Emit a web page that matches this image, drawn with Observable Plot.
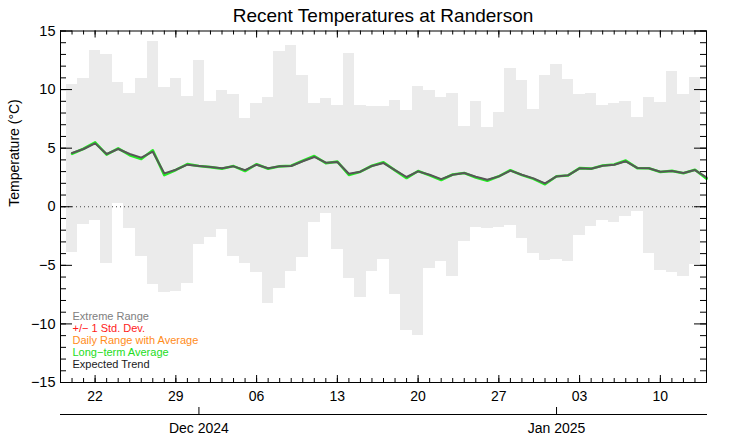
<!DOCTYPE html>
<html><head><meta charset="utf-8">
<script src="https://cdn.jsdelivr.net/npm/d3@7"></script>
<script src="https://cdn.jsdelivr.net/npm/@observablehq/plot@0.6"></script>
<style>
body{margin:0;background:#fff;font-family:"Liberation Sans",Arial,sans-serif;}
#wrap{position:relative;width:742px;height:445px;}
#chart{position:absolute;left:0;top:0;}
#title{position:absolute;left:0;top:4px;width:766px;text-align:center;font-size:19px;line-height:24px;color:#000;z-index:2;}
</style></head><body>
<div id="wrap"><div id="chart"></div><div id="title">Recent Temperatures at Randerson</div></div>
<script>
// ---- data ----
const firstDay = "2024-11-20";     // first bar
const lastDay = "2025-01-13";      // last bar
const lineEnd = "2025-01-14";      // last line point
const xDomain = ["2024-11-19", "2025-01-14"];
const extremeMax = [10.45, 10.94, 13.33, 13.02, 10.63, 9.69, 10.94, 14.1, 10.2, 10.94, 9.37, 12.48, 8.95, 9.91, 9.57, 7.55, 8.78, 9.32, 13.25, 13.76, 11.22, 8.78, 9.23, 8.63, 13.1, 8.66, 8.55, 8.55,
  9.09, 8.18, 10.28, 9.94, 9.29, 9.69, 6.81, 8.97, 6.78, 8.06, 11.79, 10.77, 8.29, 11.2, 12.14, 10.85, 9.57, 9.69, 8.63, 8.83, 8.97, 7.63, 9.32, 8.91, 11.54, 9.57, 11.0];
const extremeMin = [-3.93, -1.54, -1.17, -4.84, 0.28, -1.88, -4.27, -6.64, -7.29, -7.24, -6.58, -3.22, -2.62, -1.91, -4.22, -4.81, -5.58, -8.23, -6.98, -5.5, -4.33, -1.34, -0.57, -3.65, -6.13, -7.72, -5.5, -4.53,
  -7.49, -10.57, -11.0, -5.27, -4.64, -5.98, -2.96, -1.79, -1.88, -1.74, -1.6, -2.71, -3.96, -4.62, -4.53, -4.7, -2.48, -1.71, -1.2, -1.37, -0.83, -0.4, -3.96, -5.47, -5.58, -5.98, -4.9];
const longTermAverage = [4.52, 4.95, 5.5, 4.45, 4.98, 4.4, 4.08, 4.82, 2.7, 3.14, 3.64, 3.48, 3.38, 3.25, 3.47, 3.05, 3.63, 3.24, 3.45, 3.5, 3.93, 4.33, 3.72, 3.85, 2.72, 2.99, 3.5, 3.8,
  3.1, 2.45, 3.05, 2.68, 2.28, 2.75, 2.88, 2.5, 2.22, 2.6, 3.12, 2.7, 2.38, 1.92, 2.6, 2.67, 3.3, 3.25, 3.52, 3.6, 3.94, 3.3, 3.28, 2.97, 3.06, 2.86, 3.16, 2.4];
const expectedTrend = [4.59, 4.93, 5.41, 4.5, 4.93, 4.5, 4.19, 4.7, 2.85, 3.16, 3.59, 3.48, 3.39, 3.28, 3.45, 3.13, 3.59, 3.28, 3.45, 3.48, 3.88, 4.25, 3.76, 3.82, 2.82, 2.99, 3.48, 3.73,
  3.13, 2.54, 3.02, 2.73, 2.36, 2.73, 2.88, 2.56, 2.3, 2.59, 3.08, 2.73, 2.42, 1.99, 2.59, 2.68, 3.28, 3.25, 3.5, 3.59, 3.88, 3.31, 3.28, 2.99, 3.05, 2.88, 3.13, 2.5];
const weekTicks = ["2024-11-22", "2024-11-29", "2024-12-06", "2024-12-13", "2024-12-20", "2024-12-27", "2025-01-03", "2025-01-10"];
const monthTicks = ["2024-12-01", "2025-01-01"];
const yMajorTicks = [-15, -10, -5, 0, 5, 10, 15];
const legendLabels = ["Extreme Range", "+/\u2212 1 Std. Dev.", "Daily Range with Average", "Long\u2212term Average", "Expected Trend"];
const legendColors = ["#808080", "#ff1a1a", "#ff8c1a", "#22dd22", "#1a1a1a"];
const yLabel = "Temperature (\u00b0C)";

// ---- build tables ----
const parse = s => new Date(s + "T00:00:00Z");
const barDays = d3.utcDay.range(parse(firstDay), d3.utcDay.offset(parse(lastDay), 1));
const lineDays = d3.utcDay.range(parse(firstDay), d3.utcDay.offset(parse(lineEnd), 1));
const bars = barDays.map((date, i) => ({date, min: extremeMin[i], max: extremeMax[i]}));
const lines = lineDays.map((date, i) => ({date, avg: longTermAverage[i], trend: expectedTrend[i]}));
const x0 = parse(xDomain[0]), x1 = parse(xDomain[1]);
const dayTicks = d3.utcDay.range(x0, d3.utcDay.offset(x1, 1));
const weeks = weekTicks.map(parse);
const months = monthTicks.map(parse);
const yMinor = d3.range(-15, 16);

// layout
const W = 742, H = 445, mT = 30.5, mB = 63, mL = 60, mR = 36;
const fw = W - mL - mR, fh = H - mT - mB;

const font = 'Liberation Sans, Arial, Helvetica, sans-serif';
const legendMarks = legendLabels.map((label, i) => Plot.text([label], {
  frameAnchor: "bottom-left", dx: 12, dy: -(15 + (legendLabels.length - 1 - i) * 11.8),
  textAnchor: "start", fill: legendColors[i], fontSize: 11
}));
const tk = {stroke: "#000", strokeWidth: 1};

const chart = Plot.plot({
  width: W, height: H,
  marginTop: mT, marginBottom: mB, marginLeft: mL, marginRight: mR,
  style: {fontFamily: font, background: "transparent", color: "#000"},
  x: {type: "utc", domain: [x0, x1]},
  y: {domain: [-15, 15]},
  marks: [
    Plot.rectY(bars, {
      x1: d => d3.utcHour.offset(d.date, -12), x2: d => d3.utcHour.offset(d.date, 12),
      y1: "min", y2: "max", fill: "#ebebeb", shapeRendering: "crispEdges"
    }),
    Plot.ruleY([0], {stroke: "#444", strokeDasharray: "1,3"}),
    Plot.line(lines, {x: "date", y: "avg", stroke: "#22ee22", strokeWidth: 2.6}),
    Plot.line(lines, {x: "date", y: "trend", stroke: "#575757", strokeWidth: 2}),
    ...legendMarks,
    // inward ticks on the four sides of the frame
    Plot.tickY(yMinor, {...tk, y: d => d, insetRight: fw - 6}),
    Plot.tickY(yMajorTicks, {...tk, y: d => d, insetRight: fw - 12}),
    Plot.tickY(yMinor, {...tk, y: d => d, insetLeft: fw - 6}),
    Plot.tickY(yMajorTicks, {...tk, y: d => d, insetLeft: fw - 12}),
    Plot.tickX(dayTicks, {...tk, x: d => d, insetTop: fh - 4}),
    Plot.tickX(weeks, {...tk, x: d => d, insetTop: fh - 7}),
    Plot.tickX(dayTicks, {...tk, x: d => d, insetBottom: fh - 4}),
    Plot.tickX(weeks, {...tk, x: d => d, insetBottom: fh - 7}),
    // labels
    Plot.axisY(yMajorTicks, {anchor: "left", tickSize: 0, tickPadding: 5, fontSize: 14.5, label: null}),
    Plot.text([yLabel], {frameAnchor: "left", rotate: -90, dx: -46, fontSize: 14}),
    Plot.axisX(weeks, {anchor: "bottom", tickSize: 0, tickPadding: 8.5, tickFormat: "%d", fontSize: 14, label: null}),
    // month axis
    Plot.frame({anchor: "bottom", dy: 32, stroke: "#000"}),
    Plot.tickX(months, {...tk, x: d => d, insetTop: fh - 7, dy: 32}),
    Plot.axisX(months, {anchor: "bottom", dy: 32, tickSize: 0, tickPadding: 8.5, tickFormat: "%b %Y", fontSize: 14, label: null}),
    Plot.frame({stroke: "#000"})
  ]
});
document.getElementById("chart").appendChild(chart);
</script>
</body></html>
